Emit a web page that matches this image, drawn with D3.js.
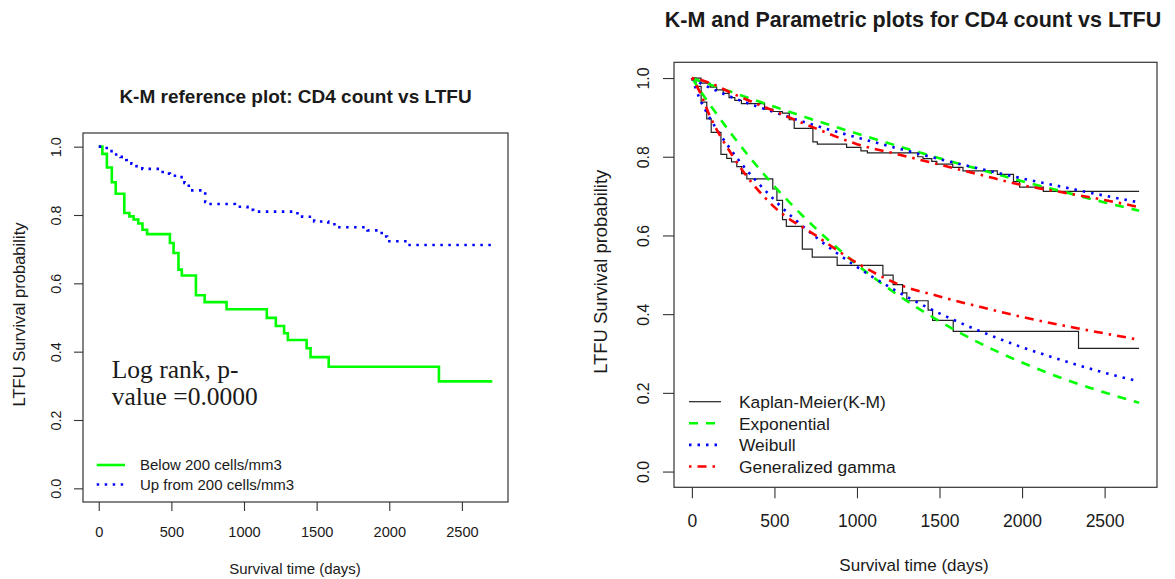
<!DOCTYPE html>
<html><head><meta charset="utf-8">
<script src="https://cdn.jsdelivr.net/npm/d3@7"></script>
<style>
body{margin:0;background:#fff}
svg{display:block}
text{font-family:"Liberation Sans",Arial,sans-serif;fill:#1a1a1a}
</style>
</head><body>
<svg id="c" width="1175" height="579"></svg>
<script>
// ---------- data ----------
const groupLabels = ["Below 200 cells/mm3", "Up from 200 cells/mm3"];
const modelLabels = ["Kaplan-Meier(K-M)", "Exponential", "Weibull", "Generalized gamma"];
const maxTime = 2709;

// Kaplan-Meier: Below 200 cells/mm3
const kmBelowTime = [0, 25, 56, 90, 117, 176, 211, 240, 272, 301, 333, 490, 515, 549, 572, 669, 729, 880, 1157, 1219, 1276, 1302, 1431, 1458, 1583, 2342];
const kmBelowSurv = [1, 0.979, 0.939, 0.896, 0.862, 0.806, 0.796, 0.787, 0.775, 0.757, 0.744, 0.718, 0.689, 0.640, 0.623, 0.565, 0.545, 0.524, 0.499, 0.475, 0.454, 0.434, 0.410, 0.384, 0.356, 0.313];

// Kaplan-Meier: Up from 200 cells/mm3
const kmUpTime = [0, 55, 110, 150, 190, 225, 260, 300, 440, 490, 548, 590, 620, 733, 760, 937, 1024, 1063, 1368, 1400, 1453, 1483, 1580, 1642, 1850, 1948, 1985, 2129];
const kmUpSurv = [1, 0.987, 0.977, 0.970, 0.961, 0.950, 0.943, 0.935, 0.921, 0.915, 0.911, 0.894, 0.872, 0.838, 0.832, 0.824, 0.815, 0.810, 0.800, 0.795, 0.788, 0.781, 0.773, 0.764, 0.755, 0.737, 0.723, 0.712];

// Parametric fits read at these times
const fitTime  = [0, 50, 100, 250, 500, 750, 1000, 1250, 1500, 1750, 2000, 2250, 2500, 2709];
const expUp    = [1, 0.992, 0.985, 0.963, 0.927, 0.892, 0.859, 0.827, 0.796, 0.767, 0.738, 0.711, 0.684, 0.663];
const expBelow = [1, 0.968, 0.938, 0.852, 0.725, 0.618, 0.526, 0.448, 0.382, 0.325, 0.277, 0.236, 0.201, 0.175];
const weiUp    = [1, 0.987, 0.977, 0.950, 0.913, 0.879, 0.849, 0.821, 0.794, 0.769, 0.745, 0.723, 0.701, 0.684];
const weiBelow = [1, 0.945, 0.905, 0.810, 0.690, 0.596, 0.520, 0.456, 0.402, 0.356, 0.316, 0.282, 0.251, 0.229];
const ggUp     = [1, 0.996, 0.989, 0.960, 0.916, 0.872, 0.832, 0.806, 0.780, 0.754, 0.728, 0.709, 0.690, 0.672];
const ggBelow  = [1, 0.963, 0.912, 0.800, 0.672, 0.600, 0.530, 0.476, 0.445, 0.418, 0.393, 0.371, 0.351, 0.335];

const xTicks = [0, 500, 1000, 1500, 2000, 2500];
const yTicks = [0, 0.2, 0.4, 0.6, 0.8, 1.0];

// ---------- drawing ----------
const svg = d3.select("#c");

function kmPoints(ts, ss) {
  const p = ts.map((t, i) => [t, ss[i]]);
  p.push([maxTime, ss[ss.length - 1]]);
  return p;
}
function fitPoints(ss) { return fitTime.map((t, i) => [t, ss[i]]); }

function panel(cfg) {
  const g = svg.append("g");
  const x = d3.scaleLinear().domain([-0.04 * maxTime, 1.04 * maxTime]).range([cfg.l, cfg.r]);
  const y = d3.scaleLinear().domain([-0.04, 1.04]).range([cfg.b, cfg.t]);

  const ax = g.append("g").attr("transform", `translate(0,${cfg.b})`)
    .call(d3.axisBottom(x).tickValues(xTicks).tickSize(cfg.tick).tickFormat(d3.format("d")));
  ax.select(".domain").remove();
  ax.selectAll("line").attr("stroke", "#333").attr("stroke-width", 1.1);
  ax.selectAll("text").attr("dy", null).attr("y", cfg.xTickBase - cfg.b)
    .style("font-size", cfg.tickFs + "px").attr("fill", "#1a1a1a");

  const ay = g.append("g").attr("transform", `translate(${cfg.l},0)`)
    .call(d3.axisLeft(y).tickValues(yTicks).tickSize(cfg.tick).tickFormat(d3.format(".1f")));
  ay.select(".domain").remove();
  ay.selectAll("line").attr("stroke", "#333").attr("stroke-width", 1.1);
  ay.selectAll("text").attr("x", 0).attr("dy", null).attr("text-anchor", "middle")
    .attr("transform", `translate(${cfg.yTickBase - cfg.l},0) rotate(-90)`)
    .style("font-size", cfg.yTickFs + "px").attr("fill", "#1a1a1a");

  g.append("rect").attr("x", cfg.l).attr("y", cfg.t)
    .attr("width", cfg.r - cfg.l).attr("height", cfg.b - cfg.t)
    .attr("fill", "none").attr("stroke", "#333").attr("stroke-width", 1.2);

  g.append("text").attr("x", cfg.titleX).attr("y", cfg.titleY).attr("text-anchor", "middle")
    .style("font-weight", "bold").style("font-size", cfg.titleFs + "px").text(cfg.title);
  g.append("text").attr("x", cfg.xLabX).attr("y", cfg.xLabBase).attr("text-anchor", "middle")
    .style("font-size", cfg.xLabFs + "px").text("Survival time (days)");
  g.append("text").attr("text-anchor", "middle")
    .attr("transform", `translate(${cfg.yLabBase},${(cfg.t + cfg.b) / 2 - 3}) rotate(-90)`)
    .style("font-size", cfg.yLabFs + "px").text("LTFU Survival probability");

  return { g, x, y };
}

// ---- Left panel ----
const L = panel({
  l: 83, r: 508, t: 133, b: 502, tick: 9,
  xTickBase: 537, yTickBase: 61, tickFs: 14.6, yTickFs: 14.4,
  title: "K-M reference plot: CD4 count vs LTFU", titleX: 295.5, titleY: 103, titleFs: 19,
  xLabX: 295, xLabBase: 574, xLabFs: 15, yLabBase: 25, yLabFs: 16.6
});
const stepL = d3.line().x(d => L.x(d[0])).y(d => L.y(d[1])).curve(d3.curveStepAfter);
L.g.append("path").attr("d", stepL(kmPoints(kmBelowTime, kmBelowSurv)))
  .attr("fill", "none").attr("stroke", "#00ff00").attr("stroke-width", 2.6);
L.g.append("path").attr("d", stepL(kmPoints(kmUpTime, kmUpSurv)))
  .attr("fill", "none").attr("stroke", "#0000ff").attr("stroke-width", 2.6)
  .attr("stroke-dasharray", "2.5,5.5");

L.g.append("text").attr("x", 111.7).attr("y", 378.3)
  .style("font-family", "'Liberation Serif','Times New Roman',serif").style("font-size", "25.5px")
  .attr("fill", "#000").text("Log rank, p-");
L.g.append("text").attr("x", 111.7).attr("y", 405)
  .style("font-family", "'Liberation Serif','Times New Roman',serif").style("font-size", "25.5px")
  .attr("fill", "#000").text("value =0.0000");

const legL = [
  { label: groupLabels[0], color: "#00ff00", dash: null },
  { label: groupLabels[1], color: "#0000ff", dash: "2.5,5.5" }
];
legL.forEach((d, i) => {
  const yy = 465 + i * 19.5;
  L.g.append("line").attr("x1", 96.7).attr("x2", 125).attr("y1", yy).attr("y2", yy)
    .attr("stroke", d.color).attr("stroke-width", 2.6).attr("stroke-dasharray", d.dash);
  L.g.append("text").attr("x", 140).attr("y", yy).attr("dy", "0.36em")
    .style("font-size", "15px").text(d.label);
});

// ---- Right panel ----
const R = panel({
  l: 674, r: 1157, t: 62.3, b: 487.3, tick: 11,
  xTickBase: 527, yTickBase: 649, tickFs: 17.5, yTickFs: 15.8,
  title: "K-M and Parametric plots for CD4 count vs LTFU", titleX: 913, titleY: 27, titleFs: 21.5,
  xLabX: 914, xLabBase: 571, xLabFs: 17, yLabBase: 607, yLabFs: 18.4
});
const stepR = d3.line().x(d => R.x(d[0])).y(d => R.y(d[1])).curve(d3.curveStepAfter);
const smoothR = d3.line().x(d => R.x(d[0])).y(d => R.y(d[1])).curve(d3.curveMonotoneX);

[kmPoints(kmBelowTime, kmBelowSurv), kmPoints(kmUpTime, kmUpSurv)].forEach(p => {
  R.g.append("path").attr("d", stepR(p)).attr("fill", "none")
    .attr("stroke", "#222").attr("stroke-width", 1.2);
});
const styles = [
  { color: "#222", dash: null, w: 1.2 },
  { color: "#00ff00", dash: "9,8", w: 2.6 },
  { color: "#0000ff", dash: "2.5,6", w: 2.6 },
  { color: "#ff0000", dash: "2.5,6,9,6", w: 2.6 }
];
const fits = [[expUp, expBelow], [weiUp, weiBelow], [ggUp, ggBelow]];
fits.forEach((pair, k) => {
  const s = styles[k + 1];
  pair.forEach(ss => {
    R.g.append("path").attr("d", smoothR(fitPoints(ss))).attr("fill", "none")
      .attr("stroke", s.color).attr("stroke-width", s.w).attr("stroke-dasharray", s.dash);
  });
});

modelLabels.forEach((lab, i) => {
  const yy = 401.7 + i * 21.6;
  const s = styles[i];
  R.g.append("line").attr("x1", 689).attr("x2", 721).attr("y1", yy).attr("y2", yy)
    .attr("stroke", s.color).attr("stroke-width", s.w).attr("stroke-dasharray", s.dash);
  R.g.append("text").attr("x", 739).attr("y", yy).attr("dy", "0.36em")
    .style("font-size", "17.4px").text(lab);
});
</script>
</body></html>
